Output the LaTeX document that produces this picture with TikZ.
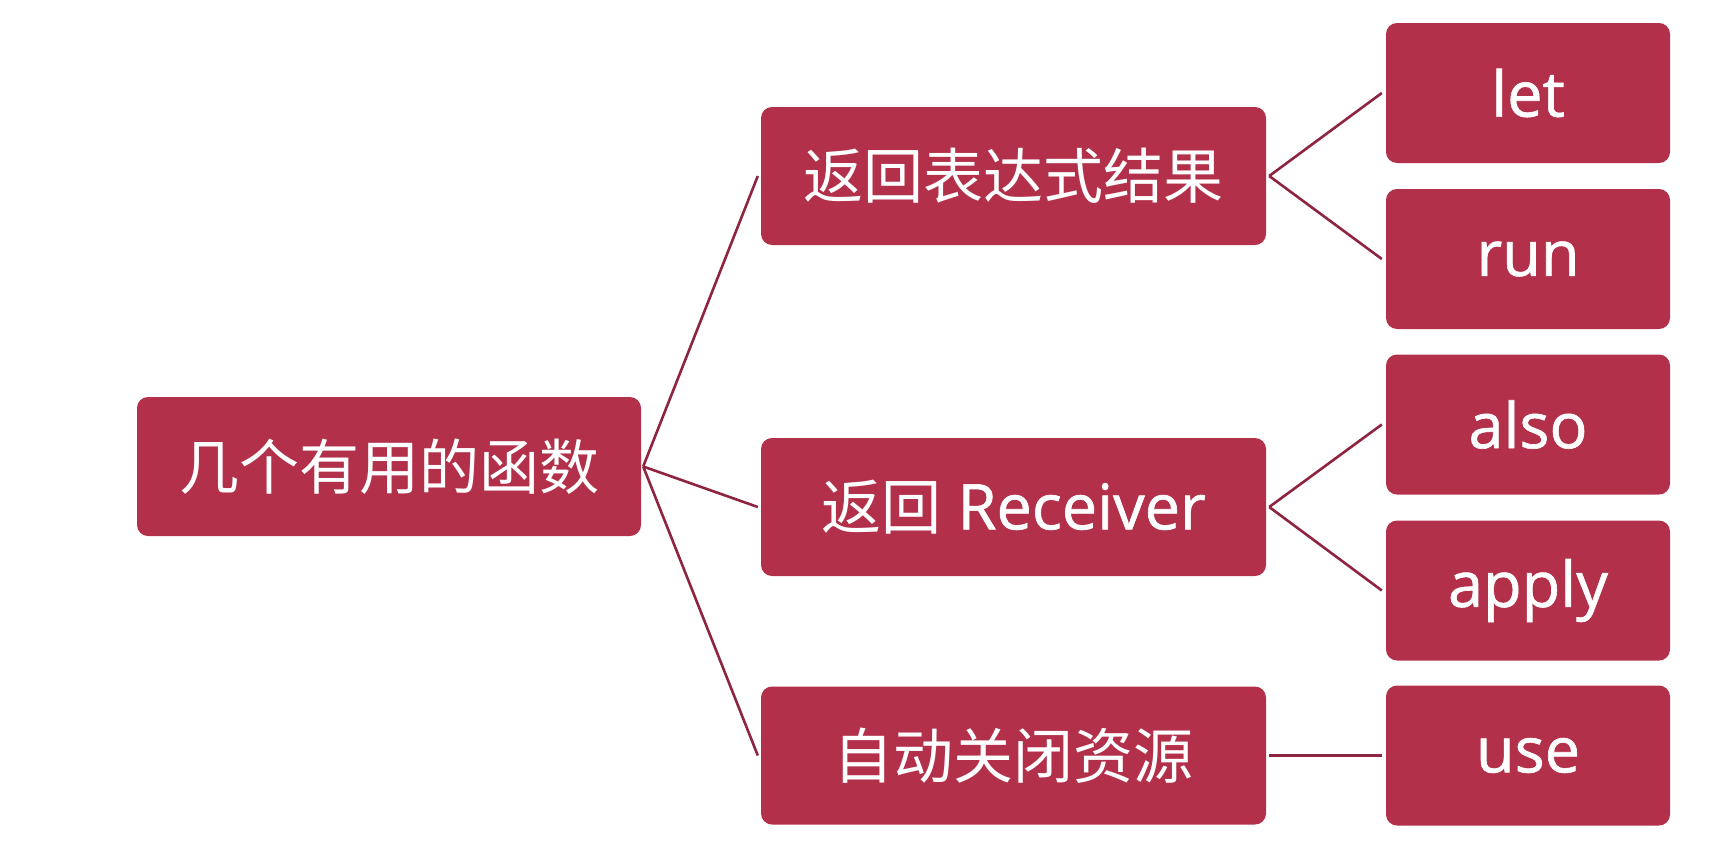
\documentclass[tikz,border=0pt]{standalone}
\usepackage{fontspec}
\setmainfont{Open Sans}[Scale=1.05,FakeBold=1.0,UprightFeatures={FakeBold=1.0}]
\newfontfamily\cjk{Noto Sans CJK SC}
\definecolor{boxred}{HTML}{B3304A}
\definecolor{linered}{HTML}{8E2440}
\begin{document}
\begin{tikzpicture}[x=1pt,y=-1pt,
  box/.style={rectangle, rounded corners=11pt, fill=boxred, draw=none, text=white,
    inner sep=0pt, font=\fontsize{60}{70}\selectfont},
  rootbox/.style={box, minimum width=504pt, minimum height=139pt},
  midbox/.style={box, minimum width=505pt, minimum height=138pt},
  leafbox/.style={box, minimum width=284pt, minimum height=140pt},
  link/.style={draw=linered, line width=2.6pt}]
\useasboundingbox (0,0) rectangle (1728,862);
\node[rootbox] (root) at (389,466.5) {\cjk 几个有用的函数};
\node[midbox] (m1) at (1013.5,176) {\cjk 返回表达式结果};
\node[midbox] (m2) at (1013.5,507) {{\cjk 返回} Receiver};
\node[midbox] (m3) at (1013.5,755.5) {\cjk 自动关闭资源};
\node[leafbox] (let) at (1528,93) {let};
\node[leafbox] (run) at (1528,259) {run};
\node[leafbox] (also) at (1528,424.5) {also};
\node[leafbox] (apply) at (1528,590.5) {apply};
\node[leafbox] (use) at (1528,755.5) {use};
\draw[link] ([xshift=2pt]root.east) -- ([xshift=-3pt]m1.west);
\draw[link] ([xshift=2pt]root.east) -- ([xshift=-3pt]m2.west);
\draw[link] ([xshift=2pt]root.east) -- ([xshift=-3pt]m3.west);
\draw[link] ([xshift=3pt]m1.east) -- ([xshift=-4pt]let.west);
\draw[link] ([xshift=3pt]m1.east) -- ([xshift=-4pt]run.west);
\draw[link] ([xshift=3pt]m2.east) -- ([xshift=-4pt]also.west);
\draw[link] ([xshift=3pt]m2.east) -- ([xshift=-4pt]apply.west);
\draw[link] ([xshift=3pt]m3.east) -- ([xshift=-4pt]use.west);
\end{tikzpicture}
\end{document}
